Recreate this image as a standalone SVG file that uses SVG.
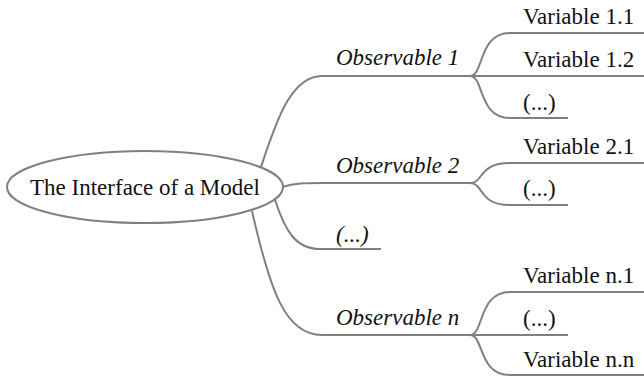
<svg xmlns="http://www.w3.org/2000/svg" width="644" height="378" viewBox="0 0 644 378">
<style>
.c{fill:none;stroke:#808080;stroke-width:2}
.t{font-family:'Liberation Serif','DejaVu Serif',serif;font-size:23px;fill:#111}
.i{font-style:italic}
</style>
<rect width="644" height="378" fill="#fff"/>
<g id="connectors">
<path class="c" d="M261,167 C275,125 290,76 322,76 H470"/>
<path class="c" d="M282,187 C295,183 305,183 322,183 H470"/>
<path class="c" d="M275,200 C285,230 295,249 320,249 H381"/>
<path class="c" d="M252,211 C270,290 285,335 322,335 H470"/>
<path class="c" d="M470,76 C484,76 478,33 510,33 H644"/>
<path class="c" d="M470,76 H644"/>
<path class="c" d="M470,76 C484,76 478,118 510,118 H568"/>
<path class="c" d="M470,183 C484,183 478,163 510,163 H644"/>
<path class="c" d="M470,183 C484,183 478,205 510,205 H568"/>
<path class="c" d="M470,335 C484,335 478,292 510,292 H644"/>
<path class="c" d="M470,335 H568"/>
<path class="c" d="M470,335 C484,335 478,375 510,375 H644"/>
</g>
<g id="root">
<ellipse cx="145" cy="187" rx="138" ry="36" fill="#fff" stroke="#808080" stroke-width="2"/>
<text class="t" x="145" y="195" text-anchor="middle" font-family="Liberation Serif">The Interface of a Model</text>
</g>
<g id="obs1"><text class="t i" x="336" y="65">Observable 1</text></g>
<g id="obs2"><text class="t i" x="336" y="173">Observable 2</text></g>
<g id="obsdots"><text class="t i" x="336" y="242">(...)</text></g>
<g id="obsn"><text class="t i" x="336" y="325">Observable n</text></g>
<g id="v11"><text class="t" x="523" y="24">Variable 1.1</text></g>
<g id="v12"><text class="t" x="523" y="67">Variable 1.2</text></g>
<g id="v1d"><text class="t" x="523" y="110">(...)</text></g>
<g id="v21"><text class="t" x="523" y="154">Variable 2.1</text></g>
<g id="v2d"><text class="t" x="523" y="196">(...)</text></g>
<g id="vn1"><text class="t" x="523" y="283">Variable n.1</text></g>
<g id="vnd"><text class="t" x="523" y="326">(...)</text></g>
<g id="vnn"><text class="t" x="523" y="367">Variable n.n</text></g>
</svg>
